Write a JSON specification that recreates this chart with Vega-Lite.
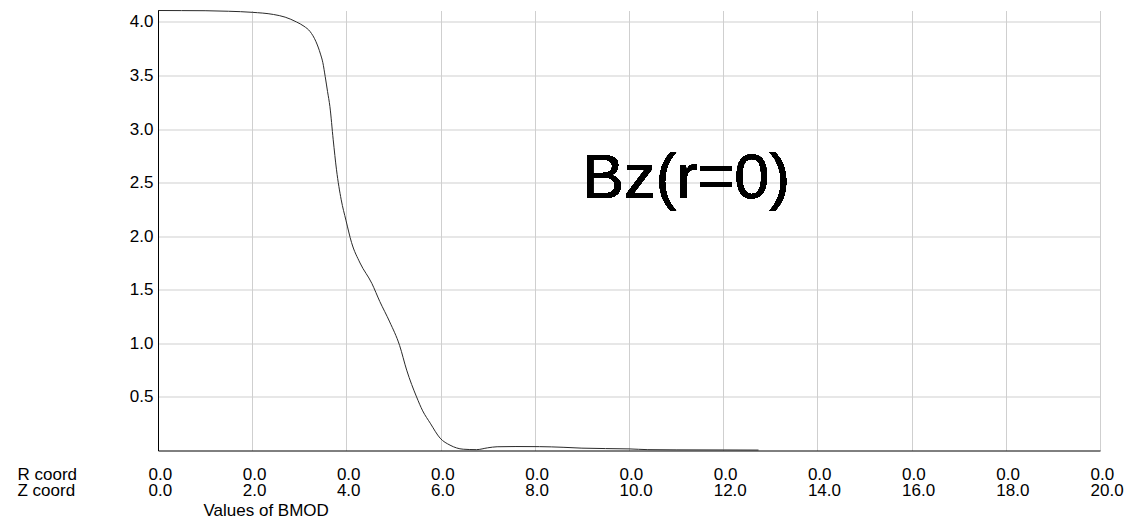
{
  "$schema": "https://vega.github.io/schema/vega-lite/v6.json",
  "width": 942,
  "height": 440,
  "autosize": {"type": "none"},
  "padding": {"left": 158, "top": 10.5, "right": 26, "bottom": 66.5},
  "background": "#ffffff",
  "config": {
    "view": {"stroke": null},
    "font": "Liberation Sans"
  },
  "data": {
    "values": [
      {"z": 0.0, "b": 4.107},
      {"z": 0.5, "b": 4.106},
      {"z": 1.0, "b": 4.105},
      {"z": 1.5, "b": 4.1},
      {"z": 2.0, "b": 4.09},
      {"z": 2.45, "b": 4.07},
      {"z": 2.7, "b": 4.045},
      {"z": 2.94, "b": 4.0},
      {"z": 3.1, "b": 3.96},
      {"z": 3.23, "b": 3.91},
      {"z": 3.35, "b": 3.82},
      {"z": 3.45, "b": 3.7},
      {"z": 3.5, "b": 3.62},
      {"z": 3.55, "b": 3.49},
      {"z": 3.6, "b": 3.35},
      {"z": 3.65, "b": 3.21},
      {"z": 3.72, "b": 2.9},
      {"z": 3.79, "b": 2.62},
      {"z": 3.89, "b": 2.34},
      {"z": 3.99, "b": 2.15},
      {"z": 4.11, "b": 1.94},
      {"z": 4.29, "b": 1.75},
      {"z": 4.54, "b": 1.56},
      {"z": 4.71, "b": 1.39},
      {"z": 4.92, "b": 1.2},
      {"z": 5.13, "b": 0.98},
      {"z": 5.28, "b": 0.75},
      {"z": 5.49, "b": 0.5},
      {"z": 5.62, "b": 0.37},
      {"z": 5.78, "b": 0.255},
      {"z": 5.99, "b": 0.115},
      {"z": 6.2, "b": 0.05},
      {"z": 6.48, "b": 0.012},
      {"z": 6.76, "b": 0.008},
      {"z": 7.0, "b": 0.025},
      {"z": 7.2, "b": 0.035},
      {"z": 7.6, "b": 0.037},
      {"z": 8.1, "b": 0.036},
      {"z": 8.6, "b": 0.03},
      {"z": 9.0, "b": 0.022},
      {"z": 9.5, "b": 0.018},
      {"z": 10.0, "b": 0.015},
      {"z": 10.4, "b": 0.008},
      {"z": 11.0, "b": 0.006},
      {"z": 12.0, "b": 0.005},
      {"z": 12.75, "b": 0.004}
    ]
  },
  "layer": [
    {
      "mark": {"type": "line", "color": "#2a2a2a", "strokeWidth": 1, "interpolate": "monotone"},
      "encoding": {
        "x": {
          "field": "z",
          "type": "quantitative",
          "scale": {"domain": [0, 20], "nice": false, "zero": false},
          "axis": {
            "values": [0, 2, 4, 6, 8, 10, 12, 14, 16, 18, 20],
            "labelExpr": "['0.0', format(datum.value, '.1f')]",
            "labelAlign": "left",
            "labelOffset": -10,
            "labelBaseline": "alphabetic",
            "labelPadding": 28.5,
            "labelLineHeight": 16,
            "labelFontSize": 17,
            "labelColor": "#000000",
            "labelFlush": false,
            "labelOverlap": false,
            "labelBound": false,
            "ticks": false,
            "tickSize": 0,
            "domainColor": "#000000",
            "domainWidth": 1,
            "grid": true,
            "gridColor": "#cfcfcf",
            "gridWidth": 1,
            "title": "Values of BMOD",
            "titleFontSize": 17,
            "titleFontWeight": "normal",
            "titleColor": "#000000",
            "titleAngle": 0,
            "titleAlign": "left",
            "titleBaseline": "alphabetic",
            "titleAnchor": "start",
            "titleX": 45,
            "titleY": 64.7
          }
        },
        "y": {
          "field": "b",
          "type": "quantitative",
          "scale": {"domain": [0, 4.107], "nice": false},
          "axis": {
            "values": [0.5, 1, 1.5, 2, 2.5, 3, 3.5, 4],
            "format": ".1f",
            "labelFontSize": 17,
            "labelColor": "#000000",
            "labelPadding": 5,
            "labelBaseline": "middle",
            "labelFlush": false,
            "labelOverlap": false,
            "ticks": false,
            "tickSize": 0,
            "domainColor": "#000000",
            "domainWidth": 1,
            "grid": true,
            "gridColor": "#cfcfcf",
            "gridWidth": 1,
            "title": ["R coord", "Z coord"],
            "titleFontSize": 17,
            "titleFontWeight": "normal",
            "titleColor": "#000000",
            "titleAngle": 0,
            "titleAlign": "left",
            "titleBaseline": "alphabetic",
            "titleLineHeight": 16,
            "titleX": -141,
            "titleY": 468.8
          }
        }
      }
    },
    {
      "mark": {
        "type": "text",
        "text": "Bz(r=0)",
        "font": "Liberation Sans",
        "fontSize": 63,
        "color": "#000000",
        "align": "left",
        "baseline": "alphabetic"
      },
      "encoding": {
        "x": {"datum": 9.0, "type": "quantitative"},
        "y": {"datum": 2.36, "type": "quantitative"}
      }
    }
  ]
}
